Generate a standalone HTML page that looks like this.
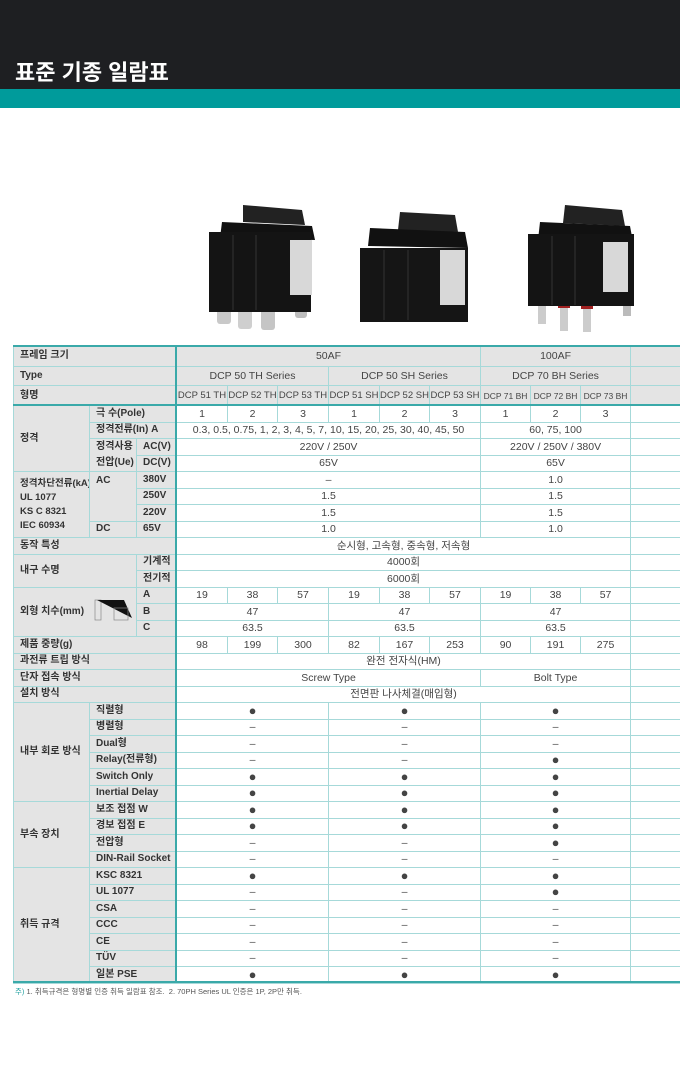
<!DOCTYPE html>
<html><head><meta charset="utf-8">
<style>
*{margin:0;padding:0;box-sizing:border-box}
body{width:680px;height:1076px;background:#fff;position:relative;overflow:hidden;font-family:"Liberation Sans","Noto Sans CJK KR",sans-serif;color:#333}
.top{position:absolute;left:0;top:0;width:680px;height:89px;background:#1e1f22}
.title{position:absolute;left:15px;top:55px;font-size:22px;font-weight:bold;color:#fff}
.teal{position:absolute;left:0;top:89px;width:680px;height:19px;background:#009b9b}
table{position:absolute;left:13px;top:346px;width:667px;border-collapse:collapse;table-layout:fixed;font-size:10.5px}
td{border:1px solid #a6d9d9;height:16.5px;line-height:14px;text-align:center;vertical-align:middle;padding:0;white-space:nowrap;overflow:hidden;color:#444}
td.l{background:#e4e4e4;text-align:left;padding-left:6px;font-weight:bold;color:#333;font-size:10px}
td.h{background:#e4e4e4}
tr.hd td{height:19.7px;background:#e4e4e4}
.b{font-size:13px;line-height:12px}
.vl{position:absolute;left:175px;top:346px;width:2px;height:636px;background:#3aa9a9}
.hl{position:absolute;left:13px;width:667px;height:2px;background:#3aa9a9}
.note{position:absolute;left:15px;top:986px;font-size:7.5px;color:#555}
.note span{color:#2aa4a4}
</style></head><body>
<div class="top"></div>
<div class="title">표준 기종 일람표</div>
<div class="teal"></div>

<svg style="position:absolute;left:0;top:0" width="680" height="340">
<g>
<rect x="217" y="302" width="14" height="22" rx="3" fill="#c9c9c9"/><rect x="238" y="305" width="14" height="24" rx="3" fill="#cfcfcf"/><rect x="261" y="306" width="14" height="24" rx="3" fill="#c5c5c5"/><rect x="295" y="300" width="12" height="18" rx="3" fill="#bdbdbd"/>
<polygon points="243,205 302,210 305,225 243,222" fill="#222"/>
<polygon points="222,222 312,226 315,240 220,238" fill="#111"/>
<rect x="209" y="232" width="102" height="80" fill="#141414"/>
<rect x="290" y="240" width="22" height="55" fill="#d8d8d8"/>
<line x1="233" y1="235" x2="233" y2="310" stroke="#333"/><line x1="256" y1="235" x2="256" y2="310" stroke="#333"/>
</g>
<g>
<polygon points="400,212 455,215 458,232 398,230" fill="#222"/>
<polygon points="370,228 465,232 468,248 368,246" fill="#111"/>
<rect x="360" y="248" width="108" height="74" fill="#151515"/>
<rect x="440" y="250" width="25" height="55" fill="#d8d8d8"/>
<line x1="384" y1="250" x2="384" y2="320" stroke="#333"/><line x1="408" y1="250" x2="408" y2="320" stroke="#333"/>
</g>
<g>
<rect x="538" y="300" width="8" height="24" fill="#ccc"/><rect x="560" y="305" width="8" height="26" fill="#ccc"/><rect x="583" y="306" width="8" height="26" fill="#ccc"/><rect x="623" y="294" width="8" height="22" fill="#bbb"/>
<rect x="536" y="300" width="12" height="4" fill="#a02020"/><rect x="558" y="304" width="12" height="4" fill="#a02020"/><rect x="581" y="305" width="12" height="4" fill="#a02020"/>
<polygon points="565,205 622,210 625,226 563,223" fill="#222"/>
<polygon points="540,222 630,226 633,242 538,240" fill="#111"/>
<rect x="528" y="234" width="106" height="72" fill="#141414"/>
<rect x="603" y="242" width="25" height="50" fill="#d8d8d8"/>
<line x1="552" y1="236" x2="552" y2="305" stroke="#333"/><line x1="575" y1="236" x2="575" y2="305" stroke="#333"/>
</g>
</svg>

<table>
<colgroup><col style="width:76px"><col style="width:47px"><col style="width:40px">
<col style="width:51px"><col style="width:50px"><col style="width:51px"><col style="width:51px"><col style="width:50px"><col style="width:51px"><col style="width:50px"><col style="width:50px"><col style="width:50px"><col style="width:50px"></colgroup>
<tr class="hd"><td class="l" colspan="3">프레임 크기</td><td class="h" colspan="6">50AF</td><td class="h" colspan="3">100AF</td><td class="h"></td></tr>
<tr class="hd"><td class="l" colspan="3">Type</td><td class="h" colspan="3">DCP 50 TH Series</td><td class="h" colspan="3">DCP 50 SH Series</td><td class="h" colspan="3">DCP 70 BH Series</td><td class="h"></td></tr>
<tr class="hd" style="font-size:9.5px"><td class="l" colspan="3">형명</td><td class="h">DCP 51 TH</td><td class="h">DCP 52 TH</td><td class="h">DCP 53 TH</td><td class="h">DCP 51 SH</td><td class="h">DCP 52 SH</td><td class="h">DCP 53 SH</td><td class="h" style="font-size:8.5px">DCP 71 BH</td><td class="h" style="font-size:8.5px">DCP 72 BH</td><td class="h" style="font-size:8.5px">DCP 73 BH</td><td class="h"></td></tr>
<tr><td class="l" rowspan="4">정격</td><td class="l" colspan="2">극 수(Pole)</td><td>1</td><td>2</td><td>3</td><td>1</td><td>2</td><td>3</td><td>1</td><td>2</td><td>3</td><td></td></tr>
<tr><td class="l" colspan="2">정격전류(In) A</td><td colspan="6">0.3, 0.5, 0.75, 1, 2, 3, 4, 5, 7, 10, 15, 20, 25, 30, 40, 45, 50</td><td colspan="3">60, 75, 100</td><td></td></tr>
<tr><td class="l" rowspan="2" style="line-height:16px">정격사용<br>전압(Ue)</td><td class="l">AC(V)</td><td colspan="6">220V / 250V</td><td colspan="3">220V / 250V / 380V</td><td></td></tr>
<tr><td class="l">DC(V)</td><td colspan="6">65V</td><td colspan="3">65V</td><td></td></tr>
<tr><td class="l" rowspan="4" style="line-height:14px;font-size:9.5px">정격차단전류(kA)<br>UL 1077<br>KS C 8321<br>IEC 60934</td><td class="l" rowspan="3" style="vertical-align:top;padding-top:2px">AC</td><td class="l">380V</td><td colspan="6">–</td><td colspan="3">1.0</td><td></td></tr>
<tr><td class="l">250V</td><td colspan="6">1.5</td><td colspan="3">1.5</td><td></td></tr>
<tr><td class="l">220V</td><td colspan="6">1.5</td><td colspan="3">1.5</td><td></td></tr>
<tr><td class="l">DC</td><td class="l">65V</td><td colspan="6">1.0</td><td colspan="3">1.0</td><td></td></tr>
<tr><td class="l" colspan="3">동작 특성</td><td colspan="9">순시형, 고속형, 중속형, 저속형</td><td></td></tr>
<tr><td class="l" colspan="2" rowspan="2">내구 수명</td><td class="l">기계적</td><td colspan="9">4000회</td><td></td></tr>
<tr><td class="l">전기적</td><td colspan="9">6000회</td><td></td></tr>
<tr><td class="l" colspan="2" rowspan="3" style="position:relative">외형 치수(mm)<svg style="position:absolute;left:80px;top:8px" width="40" height="28"><rect x="1" y="4" width="6" height="20" fill="none" stroke="#888" stroke-width="0.7"/><polygon points="3,4 38,22 30,4" fill="#111"/><rect x="20" y="12" width="14" height="12" fill="none" stroke="#888" stroke-width="0.7"/></svg></td><td class="l">A</td><td>19</td><td>38</td><td>57</td><td>19</td><td>38</td><td>57</td><td>19</td><td>38</td><td>57</td><td></td></tr>
<tr><td class="l">B</td><td colspan="3">47</td><td colspan="3">47</td><td colspan="3">47</td><td></td></tr>
<tr><td class="l">C</td><td colspan="3">63.5</td><td colspan="3">63.5</td><td colspan="3">63.5</td><td></td></tr>
<tr><td class="l" colspan="3">제품 중량(g)</td><td>98</td><td>199</td><td>300</td><td>82</td><td>167</td><td>253</td><td>90</td><td>191</td><td>275</td><td></td></tr>
<tr><td class="l" colspan="3">과전류 트립 방식</td><td colspan="9">완전 전자식(HM)</td><td></td></tr>
<tr><td class="l" colspan="3">단자 접속 방식</td><td colspan="6">Screw Type</td><td colspan="3">Bolt Type</td><td></td></tr>
<tr><td class="l" colspan="3">설치 방식</td><td colspan="9">전면판 나사체결(매입형)</td><td></td></tr>
<tr><td class="l" rowspan="6">내부 회로 방식</td><td class="l" colspan="2">직렬형</td><td colspan="3" class="b">●</td><td colspan="3" class="b">●</td><td colspan="3" class="b">●</td><td></td></tr>
<tr><td class="l" colspan="2">병렬형</td><td colspan="3">–</td><td colspan="3">–</td><td colspan="3">–</td><td></td></tr>
<tr><td class="l" colspan="2">Dual형</td><td colspan="3">–</td><td colspan="3">–</td><td colspan="3">–</td><td></td></tr>
<tr><td class="l" colspan="2">Relay(전류형)</td><td colspan="3">–</td><td colspan="3">–</td><td colspan="3" class="b">●</td><td></td></tr>
<tr><td class="l" colspan="2">Switch Only</td><td colspan="3" class="b">●</td><td colspan="3" class="b">●</td><td colspan="3" class="b">●</td><td></td></tr>
<tr><td class="l" colspan="2">Inertial Delay</td><td colspan="3" class="b">●</td><td colspan="3" class="b">●</td><td colspan="3" class="b">●</td><td></td></tr>
<tr><td class="l" rowspan="4">부속 장치</td><td class="l" colspan="2">보조 접점 W</td><td colspan="3" class="b">●</td><td colspan="3" class="b">●</td><td colspan="3" class="b">●</td><td></td></tr>
<tr><td class="l" colspan="2">경보 접점 E</td><td colspan="3" class="b">●</td><td colspan="3" class="b">●</td><td colspan="3" class="b">●</td><td></td></tr>
<tr><td class="l" colspan="2">전압형</td><td colspan="3">–</td><td colspan="3">–</td><td colspan="3" class="b">●</td><td></td></tr>
<tr><td class="l" colspan="2">DIN-Rail Socket</td><td colspan="3">–</td><td colspan="3">–</td><td colspan="3">–</td><td></td></tr>
<tr><td class="l" rowspan="7">취득 규격</td><td class="l" colspan="2">KSC 8321</td><td colspan="3" class="b">●</td><td colspan="3" class="b">●</td><td colspan="3" class="b">●</td><td></td></tr>
<tr><td class="l" colspan="2">UL 1077</td><td colspan="3">–</td><td colspan="3">–</td><td colspan="3" class="b">●</td><td></td></tr>
<tr><td class="l" colspan="2">CSA</td><td colspan="3">–</td><td colspan="3">–</td><td colspan="3">–</td><td></td></tr>
<tr><td class="l" colspan="2">CCC</td><td colspan="3">–</td><td colspan="3">–</td><td colspan="3">–</td><td></td></tr>
<tr><td class="l" colspan="2">CE</td><td colspan="3">–</td><td colspan="3">–</td><td colspan="3">–</td><td></td></tr>
<tr><td class="l" colspan="2">TÜV</td><td colspan="3">–</td><td colspan="3">–</td><td colspan="3">–</td><td></td></tr>
<tr><td class="l" colspan="2">일본 PSE</td><td colspan="3" class="b">●</td><td colspan="3" class="b">●</td><td colspan="3" class="b">●</td><td></td></tr>
</table>
<div class="vl"></div>
<div class="hl" style="top:345px"></div>
<div class="hl" style="top:404px"></div>
<div class="hl" style="top:981px"></div>
<div class="note"><span>주)</span> 1. 취득규격은 형명별 인증 취득 일람표 참조.&nbsp; 2. 70PH Series UL 인증은 1P, 2P만 취득.</div>
</body></html>
